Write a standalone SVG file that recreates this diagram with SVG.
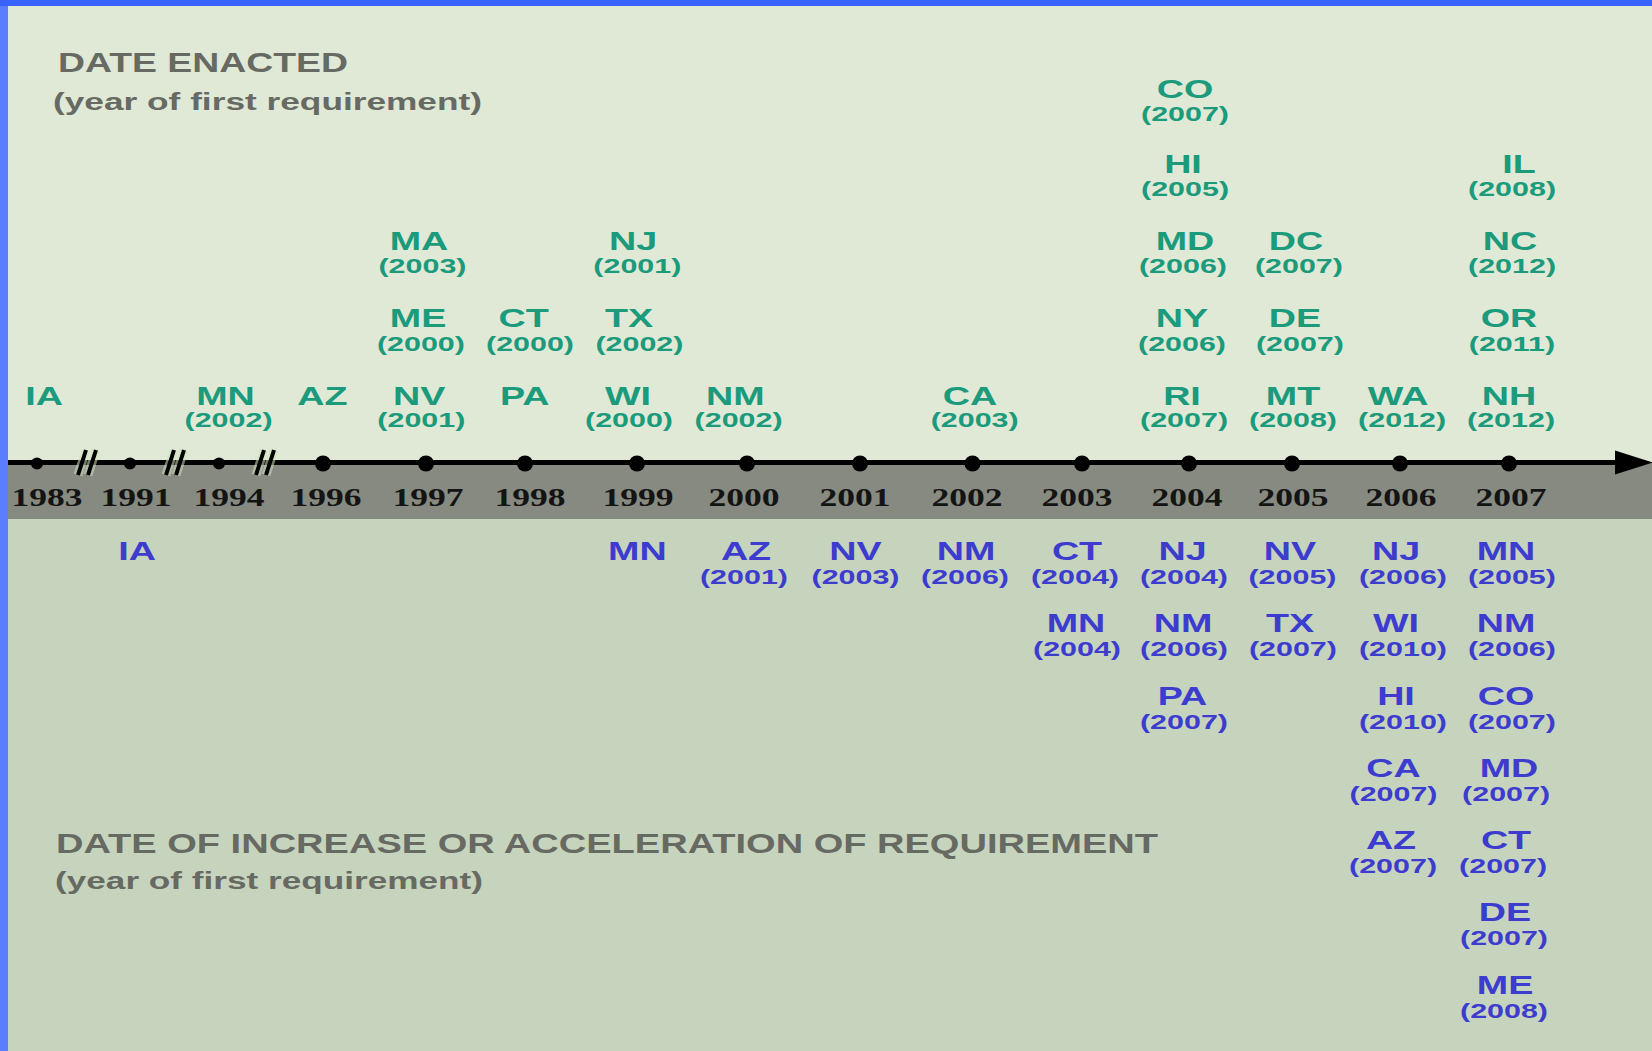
<svg xmlns="http://www.w3.org/2000/svg" width="1652" height="1051" viewBox="0 0 1652 1051">
<style>
.st{font-family:"Liberation Sans",Arial,sans-serif;font-weight:bold;font-size:26px;text-anchor:middle}
.yr{font-size:21px}
#enacted text{fill:#1b9a7c}
#increase text{fill:#3c3ccf}
.ax{font-family:"Liberation Serif","Times New Roman",serif;font-weight:bold;font-size:26px;fill:#141414;text-anchor:middle}
.hd{font-family:"Liberation Sans",Arial,sans-serif;font-weight:bold;fill:#676a63}
.dot{fill:#000}
.brk{stroke:#000;stroke-width:4;fill:none}
.halo{stroke:#cfe2bf;stroke-width:9;fill:none;opacity:0.55}
</style>
<defs>
<marker id="arrow" viewBox="0 0 38 26" refX="0" refY="13" markerWidth="38" markerHeight="26" markerUnits="userSpaceOnUse" orient="auto">
<polygon points="0,1 38,13 0,25" fill="#000"/>
</marker>
</defs>
<rect x="0" y="0" width="1652" height="1051" fill="#dfe9d6"/>
<rect x="0" y="519" width="1652" height="532" fill="#c7d4bd"/>
<rect x="0" y="462" width="1652" height="57" fill="#868a80"/>
<rect x="0" y="0" width="8" height="1051" fill="#5b7dff"/>
<rect x="0" y="0" width="1652" height="6" fill="#3a62fe"/>

<g id="headers">
<text class="hd" x="58" y="72" font-size="28" textLength="290" lengthAdjust="spacingAndGlyphs">DATE ENACTED</text>
<text class="hd" x="53" y="110" font-size="23" textLength="429" lengthAdjust="spacingAndGlyphs">(year of first requirement)</text>
<text class="hd" x="56" y="853" font-size="28" textLength="1102" lengthAdjust="spacingAndGlyphs">DATE OF INCREASE OR ACCELERATION OF REQUIREMENT</text>
<text class="hd" x="55" y="889" font-size="23" textLength="428" lengthAdjust="spacingAndGlyphs">(year of first requirement)</text>
</g>

<g id="axis">
<line x1="8" y1="462.5" x2="1615" y2="462.5" stroke="#000" stroke-width="5" marker-end="url(#arrow)"/>
<g id="breaks">
<path class="halo" d="M78,475 L86,450 M88,475 L96,450"/>
<path class="halo" d="M166,475 L174,450 M176,475 L184,450"/>
<path class="halo" d="M256,475 L264,450 M266,475 L274,450"/>
<path class="brk" d="M78,475 L86,450 M88,475 L96,450"/>
<path class="brk" d="M166,475 L174,450 M176,475 L184,450"/>
<path class="brk" d="M256,475 L264,450 M266,475 L274,450"/>
</g>
<g id="ticks">
<circle class="dot" cx="37" cy="463.5" r="6"/>
<circle class="dot" cx="130" cy="463.5" r="6"/>
<circle class="dot" cx="219" cy="463.5" r="6"/>
<circle class="dot" cx="323" cy="463.5" r="8"/>
<circle class="dot" cx="426" cy="463.5" r="8"/>
<circle class="dot" cx="525" cy="463.5" r="8"/>
<circle class="dot" cx="637" cy="463.5" r="8"/>
<circle class="dot" cx="747" cy="463.5" r="8"/>
<circle class="dot" cx="860" cy="463.5" r="8"/>
<circle class="dot" cx="972.5" cy="463.5" r="8"/>
<circle class="dot" cx="1082" cy="463.5" r="8"/>
<circle class="dot" cx="1189" cy="463.5" r="8"/>
<circle class="dot" cx="1292" cy="463.5" r="8"/>
<circle class="dot" cx="1400" cy="463.5" r="8"/>
<circle class="dot" cx="1509" cy="463.5" r="8"/>
</g>
<g id="years">
<text class="ax" x="47" y="506" textLength="71" lengthAdjust="spacingAndGlyphs">1983</text>
<text class="ax" x="136" y="506" textLength="71" lengthAdjust="spacingAndGlyphs">1991</text>
<text class="ax" x="229" y="506" textLength="71" lengthAdjust="spacingAndGlyphs">1994</text>
<text class="ax" x="326" y="506" textLength="71" lengthAdjust="spacingAndGlyphs">1996</text>
<text class="ax" x="428" y="506" textLength="71" lengthAdjust="spacingAndGlyphs">1997</text>
<text class="ax" x="530" y="506" textLength="71" lengthAdjust="spacingAndGlyphs">1998</text>
<text class="ax" x="638" y="506" textLength="71" lengthAdjust="spacingAndGlyphs">1999</text>
<text class="ax" x="744" y="506" textLength="71" lengthAdjust="spacingAndGlyphs">2000</text>
<text class="ax" x="855" y="506" textLength="71" lengthAdjust="spacingAndGlyphs">2001</text>
<text class="ax" x="967" y="506" textLength="71" lengthAdjust="spacingAndGlyphs">2002</text>
<text class="ax" x="1077" y="506" textLength="71" lengthAdjust="spacingAndGlyphs">2003</text>
<text class="ax" x="1187" y="506" textLength="71" lengthAdjust="spacingAndGlyphs">2004</text>
<text class="ax" x="1293" y="506" textLength="71" lengthAdjust="spacingAndGlyphs">2005</text>
<text class="ax" x="1401" y="506" textLength="71" lengthAdjust="spacingAndGlyphs">2006</text>
<text class="ax" x="1511" y="506" textLength="71" lengthAdjust="spacingAndGlyphs">2007</text>
</g>
</g>

<g id="enacted">
<g id="e-1983-IA" transform="translate(44 0) scale(1.45 1)"><text class="st" y="405.5">IA</text></g>
<g id="e-1994-MN" transform="translate(225.5 0) scale(1.45 1)"><text class="st" y="405.5">MN</text><text class="st yr" x="2.1" y="427.5">(2002)</text></g>
<g id="e-1996-AZ" transform="translate(322.4 0) scale(1.45 1)"><text class="st" y="405.5">AZ</text></g>
<g id="e-1997-NV" transform="translate(419.3 0) scale(1.45 1)"><text class="st" y="405.5">NV</text><text class="st yr" x="1.4" y="427.5">(2001)</text></g>
<g id="e-1997-ME" transform="translate(418 0) scale(1.45 1)"><text class="st" y="327.5">ME</text><text class="st yr" x="2" y="351">(2000)</text></g>
<g id="e-1997-MA" transform="translate(419 0) scale(1.45 1)"><text class="st" y="250.5">MA</text><text class="st yr" x="2.4" y="273">(2003)</text></g>
<g id="e-1998-PA" transform="translate(524.7 0) scale(1.45 1)"><text class="st" y="405.5">PA</text></g>
<g id="e-1998-CT" transform="translate(523.6 0) scale(1.45 1)"><text class="st" y="327.5">CT</text><text class="st yr" x="4.4" y="351">(2000)</text></g>
<g id="e-1999-WI" transform="translate(628 0) scale(1.45 1)"><text class="st" y="405.5">WI</text><text class="st yr" x="0.7" y="427.5">(2000)</text></g>
<g id="e-1999-TX" transform="translate(629 0) scale(1.45 1)"><text class="st" y="327.5">TX</text><text class="st yr" x="7.2" y="351">(2002)</text></g>
<g id="e-1999-NJ" transform="translate(633 0) scale(1.45 1)"><text class="st" y="250.5">NJ</text><text class="st yr" x="3" y="273">(2001)</text></g>
<g id="e-2000-NM" transform="translate(735.4 0) scale(1.45 1)"><text class="st" y="405.5">NM</text><text class="st yr" x="2.2" y="427.5">(2002)</text></g>
<g id="e-2002-CA" transform="translate(970 0) scale(1.45 1)"><text class="st" y="405.5">CA</text><text class="st yr" x="3.2" y="427.5">(2003)</text></g>
<g id="e-2004-RI" transform="translate(1182 0) scale(1.45 1)"><text class="st" y="405.5">RI</text><text class="st yr" x="1.4" y="427.5">(2007)</text></g>
<g id="e-2004-NY" transform="translate(1182 0) scale(1.45 1)"><text class="st" y="327.5">NY</text><text class="st yr" x="0" y="351">(2006)</text></g>
<g id="e-2004-MD" transform="translate(1185 0) scale(1.45 1)"><text class="st" y="250.5">MD</text><text class="st yr" x="-1.4" y="273">(2006)</text></g>
<g id="e-2004-HI" transform="translate(1183 0) scale(1.45 1)"><text class="st" y="173.5">HI</text><text class="st yr" x="1.4" y="196">(2005)</text></g>
<g id="e-2004-CO" transform="translate(1185 0) scale(1.45 1)"><text class="st" y="98">CO</text><text class="st yr" x="0" y="121">(2007)</text></g>
<g id="e-2005-MT" transform="translate(1293 0) scale(1.45 1)"><text class="st" y="405.5">MT</text><text class="st yr" x="0" y="427.5">(2008)</text></g>
<g id="e-2005-DE" transform="translate(1295 0) scale(1.45 1)"><text class="st" y="327.5">DE</text><text class="st yr" x="3.4" y="351">(2007)</text></g>
<g id="e-2005-DC" transform="translate(1296 0) scale(1.45 1)"><text class="st" y="250.5">DC</text><text class="st yr" x="2" y="273">(2007)</text></g>
<g id="e-2006-WA" transform="translate(1398 0) scale(1.45 1)"><text class="st" y="405.5">WA</text><text class="st yr" x="2.8" y="427.5">(2012)</text></g>
<g id="e-2007-NH" transform="translate(1509 0) scale(1.45 1)"><text class="st" y="405.5">NH</text><text class="st yr" x="1.4" y="427.5">(2012)</text></g>
<g id="e-2007-OR" transform="translate(1509 0) scale(1.45 1)"><text class="st" y="327.5">OR</text><text class="st yr" x="2" y="351">(2011)</text></g>
<g id="e-2007-NC" transform="translate(1510 0) scale(1.45 1)"><text class="st" y="250.5">NC</text><text class="st yr" x="1.4" y="273">(2012)</text></g>
<g id="e-2007-IL" transform="translate(1519 0) scale(1.45 1)"><text class="st" y="173.5">IL</text><text class="st yr" x="-4.8" y="196">(2008)</text></g>
</g>

<g id="increase">
<g id="i-1991-IA" transform="translate(137 0) scale(1.45 1)"><text class="st" y="560">IA</text></g>
<g id="i-1999-MN" transform="translate(637.4 0) scale(1.45 1)"><text class="st" y="560">MN</text></g>
<g id="i-2000-AZ" transform="translate(746 0) scale(1.45 1)"><text class="st" y="560">AZ</text><text class="st yr" x="-1.4" y="584">(2001)</text></g>
<g id="i-2001-NV" transform="translate(855.5 0) scale(1.45 1)"><text class="st" y="560">NV</text><text class="st yr" x="0" y="584">(2003)</text></g>
<g id="i-2002-NM" transform="translate(966 0) scale(1.45 1)"><text class="st" y="560">NM</text><text class="st yr" x="-0.7" y="584">(2006)</text></g>
<g id="i-2003-CT" transform="translate(1077 0) scale(1.45 1)"><text class="st" y="560">CT</text><text class="st yr" x="-1.4" y="584">(2004)</text></g>
<g id="i-2003-MN" transform="translate(1076 0) scale(1.45 1)"><text class="st" y="632.3">MN</text><text class="st yr" x="0.7" y="656.3">(2004)</text></g>
<g id="i-2004-NJ" transform="translate(1182.5 0) scale(1.45 1)"><text class="st" y="560">NJ</text><text class="st yr" x="1" y="584">(2004)</text></g>
<g id="i-2004-NM" transform="translate(1183 0) scale(1.45 1)"><text class="st" y="632.3">NM</text><text class="st yr" x="0.7" y="656.3">(2006)</text></g>
<g id="i-2004-PA" transform="translate(1182.5 0) scale(1.45 1)"><text class="st" y="704.6">PA</text><text class="st yr" x="1" y="728.6">(2007)</text></g>
<g id="i-2005-NV" transform="translate(1290 0) scale(1.45 1)"><text class="st" y="560">NV</text><text class="st yr" x="1.7" y="584">(2005)</text></g>
<g id="i-2005-TX" transform="translate(1290 0) scale(1.45 1)"><text class="st" y="632.3">TX</text><text class="st yr" x="2" y="656.3">(2007)</text></g>
<g id="i-2006-NJ" transform="translate(1396 0) scale(1.45 1)"><text class="st" y="560">NJ</text><text class="st yr" x="4.8" y="584">(2006)</text></g>
<g id="i-2006-WI" transform="translate(1396 0) scale(1.45 1)"><text class="st" y="632.3">WI</text><text class="st yr" x="4.8" y="656.3">(2010)</text></g>
<g id="i-2006-HI" transform="translate(1396 0) scale(1.45 1)"><text class="st" y="704.6">HI</text><text class="st yr" x="4.8" y="728.6">(2010)</text></g>
<g id="i-2006-CA" transform="translate(1393.5 0) scale(1.45 1)"><text class="st" y="776.9">CA</text><text class="st yr" x="0" y="800.9">(2007)</text></g>
<g id="i-2006-AZ" transform="translate(1391 0) scale(1.45 1)"><text class="st" y="849.2">AZ</text><text class="st yr" x="1.4" y="873.2">(2007)</text></g>
<g id="i-2007-MN" transform="translate(1506 0) scale(1.45 1)"><text class="st" y="560">MN</text><text class="st yr" x="4.1" y="584">(2005)</text></g>
<g id="i-2007-NM" transform="translate(1506 0) scale(1.45 1)"><text class="st" y="632.3">NM</text><text class="st yr" x="4.1" y="656.3">(2006)</text></g>
<g id="i-2007-CO" transform="translate(1506 0) scale(1.45 1)"><text class="st" y="704.6">CO</text><text class="st yr" x="4.1" y="728.6">(2007)</text></g>
<g id="i-2007-MD" transform="translate(1509 0) scale(1.45 1)"><text class="st" y="776.9">MD</text><text class="st yr" x="-2" y="800.9">(2007)</text></g>
<g id="i-2007-CT" transform="translate(1506 0) scale(1.45 1)"><text class="st" y="849.2">CT</text><text class="st yr" x="-2" y="873.2">(2007)</text></g>
<g id="i-2007-DE" transform="translate(1505 0) scale(1.45 1)"><text class="st" y="921.5">DE</text><text class="st yr" x="-0.7" y="945.5">(2007)</text></g>
<g id="i-2007-ME" transform="translate(1505 0) scale(1.45 1)"><text class="st" y="993.8">ME</text><text class="st yr" x="-0.7" y="1017.8">(2008)</text></g>
</g>
</svg>
